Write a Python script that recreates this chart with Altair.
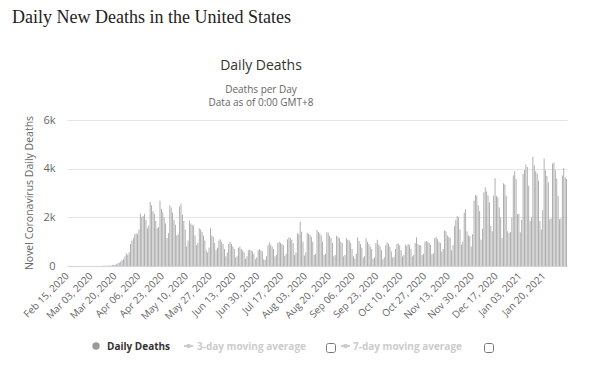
import altair as alt
import pandas as pd

# ---- data ----
start_date = "2020-02-15"
daily_deaths = [
    0, 0, 0, 0, 0, 0, 0,
    0, 0, 0, 0, 0, 0, 0,
    1, 0, 5, 1, 4, 1, 2,
    3, 4, 4, 5, 8, 7, 10,
    10, 12, 18, 23, 36, 51, 55,
    70, 110, 130, 180, 240, 280, 400,
    520, 450, 570, 900, 1050, 1150, 1300,
    1350, 1300, 1500, 2150, 2000, 2050, 2150,
    1900, 1550, 1650, 2640, 2500, 2250, 2150,
    1850, 1550, 1600, 2680, 2350, 2200, 2000,
    1750, 1150, 1350, 2500, 2400, 2200, 1900,
    1700, 1250, 1300, 2450, 2560, 2100, 1850,
    1500, 800, 1050, 1860, 1750, 1700, 1650,
    1250, 850, 950, 1550, 1500, 1400, 1250,
    1050, 650, 550, 750, 1550, 1250, 1200,
    950, 650, 750, 1050, 1100, 1000, 900,
    700, 400, 550, 900, 1000, 900, 800,
    700, 350, 400, 750, 800, 700, 650,
    550, 300, 400, 650, 670, 650, 600,
    500, 280, 350, 650, 690, 650, 600,
    280, 250, 400, 850, 980, 870, 800,
    700, 400, 450, 950, 1000, 950, 900,
    850, 420, 500, 1100, 1180, 1140, 1075,
    950, 450, 550, 1350, 1300, 1820, 1410,
    1000, 430, 550, 1370, 1320, 1280, 1200,
    1000, 450, 500, 1480, 1400, 1350, 1250,
    1000, 450, 500, 1390, 1380, 1240, 1150,
    950, 400, 450, 1240, 1200, 1140, 1000,
    950, 400, 450, 1140, 1075, 1050, 950,
    700, 400, 300, 500, 1180, 1030, 900,
    750, 350, 400, 1140, 1000, 900, 800,
    700, 300, 350, 950, 1075, 880, 800,
    650, 280, 350, 850, 965, 900, 800,
    600, 350, 380, 700, 900, 920, 850,
    650, 400, 450, 870, 830, 900, 850,
    700, 400, 450, 950, 1180, 900, 850,
    850, 450, 500, 1000, 1030, 1000, 950,
    875, 480, 520, 1150, 1190, 1100, 1000,
    950, 600, 700, 1460, 1430, 1250, 1200,
    1150, 650, 850, 1640, 1900, 2055, 1990,
    1500, 875, 1000, 2190, 2330, 1430, 1250,
    1220, 800, 1300, 2680, 2920, 2890, 2500,
    2260, 1080, 1530, 3030, 3240, 3060, 2900,
    2610, 1640, 1430, 2900, 3610, 2890, 2820,
    2400, 1990, 1150, 3400, 3350, 2890, 1430,
    1360, 1400, 1990, 3720, 3890, 3580, 2125,
    2150, 1390, 1900, 3790, 3950, 4170, 4070,
    3300, 1850, 1990, 4490, 4140, 3890, 3800,
    3510, 1850, 1500, 2300, 4420, 3930, 3700,
    3440, 1920, 1950, 4210, 4250, 3930, 3600,
    2890, 1920, 1950, 3720, 4030, 3650, 3580,
]
tick_labels = [
    "Feb 15, 2020", "Mar 03, 2020", "Mar 20, 2020", "Apr 06, 2020", "Apr 23, 2020",
    "May 10, 2020", "May 27, 2020", "Jun 13, 2020", "Jun 30, 2020", "Jul 17, 2020",
    "Aug 03, 2020", "Aug 20, 2020", "Sep 06, 2020", "Sep 23, 2020", "Oct 10, 2020",
    "Oct 27, 2020", "Nov 13, 2020", "Nov 30, 2020", "Dec 17, 2020", "Jan 03, 2021",
    "Jan 20, 2021",
]
y_ticks = [0, 2000, 4000, 6000]
legend_labels = ["Daily Deaths", "3-day moving average", "7-day moving average"]

dates = pd.date_range(start_date, periods=len(daily_deaths), freq="D").strftime("%b %d, %Y").tolist()
df = pd.DataFrame({"date": dates, "deaths": daily_deaths})

FONT = "Open Sans"
BAR = "#a8a8a8"

bars = alt.Chart(df).mark_bar(color=BAR).encode(
    x=alt.X(
        "date:O", sort=None,
        scale=alt.Scale(paddingInner=0.35, paddingOuter=0),
        axis=alt.Axis(
            values=tick_labels, labelAngle=-45, labelAlign="right", labelBaseline="middle",
            ticks=False, domainColor="#ccd6eb", labelColor="#666666", labelFontSize=10,
            labelFont=FONT, labelPadding=8, title=None, grid=False, labelOverlap=False,
        ),
    ),
    y=alt.Y(
        "deaths:Q", scale=alt.Scale(domain=[0, 6000], nice=False),
        axis=alt.Axis(
            values=y_ticks,
            labelExpr="datum.value == 0 ? '0' : (datum.value / 1000) + 'k'",
            grid=True, gridColor="#e6e6e6", domain=False, ticks=False, tickSize=0,
            labelPadding=12, labelColor="#666666", labelFontSize=11, labelFont=FONT, title=None,
        ),
    ),
)


def txt(s, x, y, size, color, font=FONT, weight="normal", align="left", angle=0):
    return alt.Chart(pd.DataFrame({"t": [s]})).mark_text(
        font=font, fontSize=size, color=color, fontWeight=weight, align=align,
        baseline="alphabetic", angle=angle,
    ).encode(text="t:N", x=alt.value(x), y=alt.value(y))


def one():
    return alt.Chart(pd.DataFrame({"a": [0]}))


layers = [bars]
layers.append(txt("Daily New Deaths in the United States", -55, -97, 18, "#222222", font="Liberation Serif"))
layers.append(txt("Daily Deaths", 194, -50, 14, "#333333", align="center"))
layers.append(txt("Deaths per Day", 194, -27, 10, "#666666", align="center"))
layers.append(txt("Data as of 0:00 GMT+8", 194, -14.5, 10, "#666666", align="center"))
# y axis title
layers.append(
    alt.Chart(pd.DataFrame({"t": ["Novel Coronavirus Daily Deaths"]})).mark_text(
        font=FONT, fontSize=10.5, color="#666666", align="center", baseline="middle", angle=270,
    ).encode(text="t:N", x=alt.value(-37), y=alt.value(73))
)
# legend
layers.append(one().mark_circle(color="#999999", opacity=1, size=55).encode(x=alt.value(29), y=alt.value(226)))
layers.append(txt(legend_labels[0], 40, 229.5, 10, "#333333", weight="bold"))
layers.append(one().mark_rule(color="#cccccc", strokeWidth=2).encode(x=alt.value(117), x2=alt.value(126), y=alt.value(226)))
layers.append(one().mark_circle(color="#cccccc", opacity=1, size=22).encode(x=alt.value(121.5), y=alt.value(226)))
layers.append(txt(legend_labels[1], 130, 229.5, 10, "#cccccc", weight="bold"))
layers.append(one().mark_rule(color="#cccccc", strokeWidth=2).encode(x=alt.value(274), x2=alt.value(283), y=alt.value(226)))
layers.append(one().mark_circle(color="#cccccc", opacity=1, size=22).encode(x=alt.value(278.5), y=alt.value(226)))
layers.append(txt(legend_labels[2], 286, 229.5, 10, "#cccccc", weight="bold"))
for cx in (264, 422):
    layers.append(
        one().mark_rect(fill="white", stroke="#767676", strokeWidth=1, cornerRadius=2).encode(
            x=alt.value(cx - 4.5), x2=alt.value(cx + 4.5), y=alt.value(223.5), y2=alt.value(232.5)
        )
    )

chart = alt.layer(*layers).properties(
    width=500, height=146,
    padding={"left": 59, "top": 112, "right": 15, "bottom": 90},
    autosize="none", background="white",
).configure_view(stroke=None)

chart.save("out.html", embed_options={"renderer": "svg", "actions": False})
